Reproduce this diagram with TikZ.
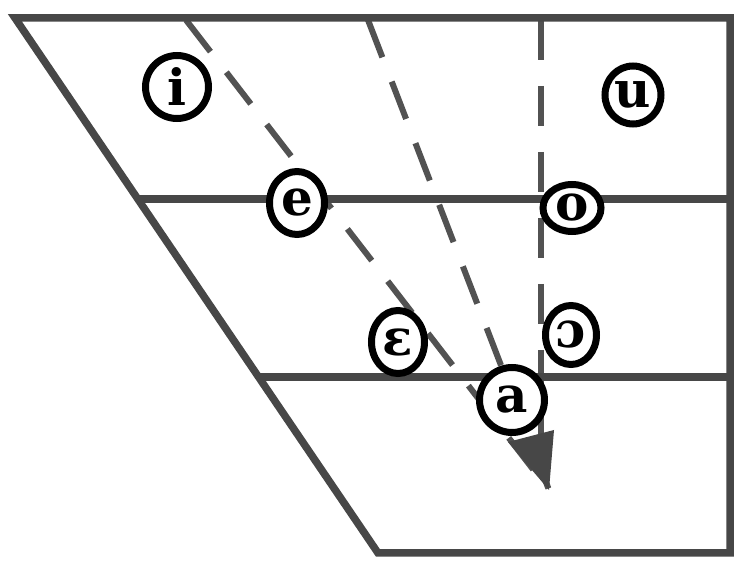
\documentclass[tikz,border=0pt]{standalone}
\usepackage{fontspec}
\newfontfamily\vowelfont{DejaVu Serif}
\usetikzlibrary{shapes.geometric}
\begin{document}
\begin{tikzpicture}[x=1pt,y=-1pt,
  frame/.style={line width=7.5pt,draw=black!72,line join=miter},
  guide/.style={line width=6pt,draw=black!68,dash pattern=on 40pt off 26pt},
  vowel/.style={ellipse,draw=black,line width=7pt,fill=white,inner sep=0pt,
    font=\vowelfont\bfseries\fontsize{50}{50}\selectfont}]
\useasboundingbox (0,0) rectangle (740,561);
% corners
\coordinate (tl) at (15,18);
\coordinate (tr) at (730,18);
\coordinate (br) at (730,553);
\coordinate (bl) at (378,553);
\coordinate (m1l) at (138,199);
\coordinate (m1r) at (730,199);
\coordinate (m2l) at (258,377);
\coordinate (m2r) at (730,377);
\coordinate (s1) at (186,20);
\coordinate (s2) at (368,20);
\coordinate (s3) at (541,20);
\coordinate (tip) at (549,490);
% dashed guides
\draw[guide] (s1) -- (tip);
\draw[guide] (s2) -- (tip);
\draw[guide] (s3) -- (541,470);
\fill[black!72] (508,442) -- (554,430) -- (tip) -- cycle;
% frame
\draw[frame] (tl) -- (tr) -- (br) -- (bl) -- cycle;
\draw[frame] (m1l) -- (m1r);
\draw[frame] (m2l) -- (m2r);
% vowels
\node[vowel,minimum width=63pt,minimum height=63pt] (i) at (177,87) {i};
\node[vowel,minimum width=56pt,minimum height=58pt] (u) at (633,95) {u};
\node[vowel,minimum width=55pt,minimum height=63pt] (e) at (297,203) {e};
\node[vowel,minimum width=58pt,minimum height=47pt] (o) at (572,208) {o};
\node[vowel,minimum width=53pt,minimum height=63pt] (eps) at (398,342) {ɛ};
\node[vowel,minimum width=51pt,minimum height=59pt] (oo) at (571,335) {ɔ};
\node[vowel,minimum width=65pt,minimum height=65pt] (a) at (512,400) {a};
\end{tikzpicture}
\end{document}
